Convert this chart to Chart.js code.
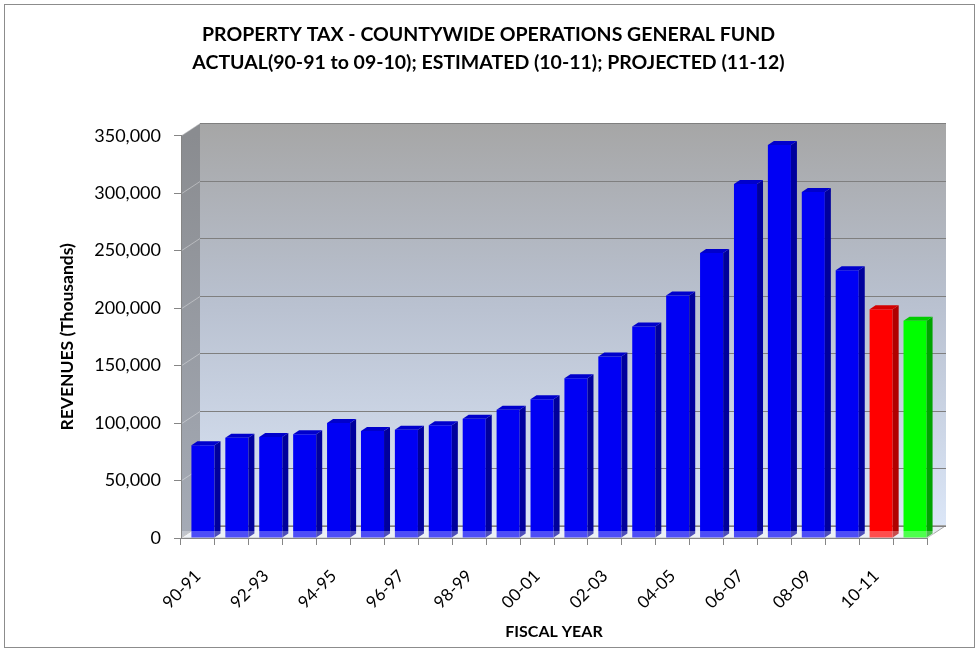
<!DOCTYPE html>
<html>
<head>
<meta charset="utf-8">
<title>Property Tax - Countywide Operations General Fund</title>
<script src="https://cdn.jsdelivr.net/npm/chart.js@4.4.1/dist/chart.umd.min.js"></script>
<style>
  html, body { margin: 0; padding: 0; background: #fff; }
  #wrap { width: 980px; height: 652px; }
</style>
</head>
<body>
<div id="wrap"><canvas id="taxChart" width="980" height="652"></canvas></div>
<script>
const fiscalYears = ['90-91', '91-92', '92-93', '93-94', '94-95', '95-96', '96-97', '97-98',
  '98-99', '99-00', '00-01', '01-02', '02-03', '03-04', '04-05', '05-06', '06-07', '07-08',
  '08-09', '09-10', '10-11', '11-12'];

// revenues in thousands
const revenues = [80700, 87300, 87900, 90200, 100000, 93100, 94200, 98000,
  103700, 111500, 120800, 139000, 158000, 184000, 211000, 248000, 308000, 342000,
  301000, 233000, 199000, 189000];

// actual / estimated / projected
const yearType = fiscalYears.map((y, i) => i < 20 ? 'actual' : (i === 20 ? 'estimated' : 'projected'));

const revenueTicks = [0, 50000, 100000, 150000, 200000, 250000, 300000, 350000];

const frontColor = { actual: '#0000f4', estimated: '#ff0000', projected: '#00ff00' };
const sideColor = { actual: '#00009c', estimated: '#b00000', projected: '#00a400' };
const topColor = { actual: '#0000cc', estimated: '#d40000', projected: '#00cc00' };

const DEPTH_X = 19, DEPTH_Y = 12.5;   // wall depth
const BAR_DX = 6, BAR_DY = 4;         // bar side depth
const BAR_SHIFT = 5;
const AXIS_GRAY = '#868686';

const walls3d = {
  id: 'walls3d',
  beforeDraw(chart) {
    const { ctx, chartArea: a, scales: { y } } = chart;
    const top = y.getPixelForValue(revenueTicks[revenueTicks.length - 1]);
    const bottom = y.getPixelForValue(0);
    const bx0 = a.left + DEPTH_X, bx1 = a.right + DEPTH_X;
    const by0 = top - DEPTH_Y, by1 = bottom - DEPTH_Y;
    ctx.save();

    // outer frame
    ctx.strokeStyle = '#8c8c8c';
    ctx.lineWidth = 1;
    ctx.strokeRect(4.5, 4.5, 970, 643);

    // back wall
    let g = ctx.createLinearGradient(0, by0, 0, by1);
    g.addColorStop(0, '#a6a6a6');
    g.addColorStop(0.45, '#b9c1d0');
    g.addColorStop(1, '#dbe6f7');
    ctx.fillStyle = g;
    ctx.fillRect(bx0, by0, bx1 - bx0, by1 - by0);

    // side wall
    g = ctx.createLinearGradient(0, top, 0, bottom);
    g.addColorStop(0, '#8a8c90');
    g.addColorStop(1, '#a5abb6');
    ctx.fillStyle = g;
    ctx.beginPath();
    ctx.moveTo(a.left, top);
    ctx.lineTo(bx0, by0);
    ctx.lineTo(bx0, by1);
    ctx.lineTo(a.left, bottom);
    ctx.closePath();
    ctx.fill();

    // floor
    ctx.fillStyle = '#e6ebf3';
    ctx.strokeStyle = '#a6a6a6';
    ctx.beginPath();
    ctx.moveTo(a.left, bottom);
    ctx.lineTo(bx0, by1);
    ctx.lineTo(bx1, by1);
    ctx.lineTo(a.right, bottom);
    ctx.closePath();
    ctx.fill();
    ctx.stroke();

    // gridlines on the back and side walls
    revenueTicks.forEach(v => {
      const py = Math.round(y.getPixelForValue(v) - DEPTH_Y) + 0.5;
      ctx.strokeStyle = '#7f7f7f';
      ctx.beginPath();
      ctx.moveTo(bx0, py);
      ctx.lineTo(bx1, py);
      ctx.stroke();
      ctx.strokeStyle = 'rgba(255,255,255,0.35)';
      ctx.beginPath();
      ctx.moveTo(a.left, py + DEPTH_Y);
      ctx.lineTo(bx0, py);
      ctx.stroke();
    });
    ctx.restore();
  },
  beforeDatasetsDraw(chart) {
    chart.ctx.save();
    chart.ctx.translate(BAR_SHIFT, 0);
  },
  afterDatasetsDraw(chart) {
    const ctx = chart.ctx;
    const a = chart.chartArea;
    chart.getDatasetMeta(0).data.forEach((bar, i) => {
      const { x, y, base, width } = bar.getProps(['x', 'y', 'base', 'width'], true);
      const l = x - width / 2, r = x + width / 2;
      const t = yearType[i];
      // right side face
      ctx.fillStyle = sideColor[t];
      ctx.beginPath();
      ctx.moveTo(r, y);
      ctx.lineTo(r + BAR_DX, y - BAR_DY);
      ctx.lineTo(r + BAR_DX, base - BAR_DY);
      ctx.lineTo(r, base);
      ctx.closePath();
      ctx.fill();
      // top face
      ctx.fillStyle = topColor[t];
      ctx.beginPath();
      ctx.moveTo(l, y);
      ctx.lineTo(l + BAR_DX, y - BAR_DY);
      ctx.lineTo(r + BAR_DX, y - BAR_DY);
      ctx.lineTo(r, y);
      ctx.closePath();
      ctx.fill();
    });
    ctx.restore();
    // front edge of the floor over the bar feet
    ctx.save();
    ctx.fillStyle = 'rgba(255,255,255,0.3)';
    ctx.fillRect(a.left + 1, a.bottom - 7, a.right - a.left + BAR_DX, 7);
    ctx.restore();
  }
};

new Chart(document.getElementById('taxChart'), {
  type: 'bar',
  data: {
    labels: fiscalYears,
    datasets: [{
      data: revenues,
      backgroundColor: yearType.map(t => frontColor[t]),
      barPercentage: 0.68,
      categoryPercentage: 1,
      clip: false
    }]
  },
  options: {
    responsive: false,
    animation: false,
    devicePixelRatio: 1,
    layout: { padding: { left: 50, right: 53, top: 0, bottom: 8 } },
    plugins: {
      legend: { display: false },
      tooltip: { enabled: false },
      title: {
        display: true,
        text: ['PROPERTY TAX - COUNTYWIDE OPERATIONS GENERAL FUND',
               'ACTUAL(90-91 to 09-10); ESTIMATED (10-11); PROJECTED (11-12)'],
        color: '#000',
        font: { family: 'Lato', size: 19.5, weight: 'bold', lineHeight: 1.436 },
        padding: { top: 21, bottom: 58.7 }
      }
    },
    scales: {
      x: {
        offset: true,
        grid: { offset: true, drawOnChartArea: false, tickLength: 7, color: AXIS_GRAY },
        border: { color: AXIS_GRAY },
        ticks: {
          autoSkip: false,
          minRotation: 45,
          maxRotation: 45,
          padding: 21,
          color: '#000',
          font: { family: 'Lato', size: 17 },
          callback: (v, i) => i % 2 === 0 ? fiscalYears[i] : ''
        },
        title: {
          display: true,
          text: 'FISCAL YEAR',
          color: '#000',
          font: { family: 'Lato', size: 16, weight: 'bold' },
          padding: { top: 4, bottom: 3 }
        },
        afterFit: s => { s.height = 106; }
      },
      y: {
        min: 0,
        max: 350000,
        afterBuildTicks: s => { s.ticks = revenueTicks.map(v => ({ value: v })); },
        grid: { drawOnChartArea: false, tickLength: 7, color: AXIS_GRAY },
        border: { color: AXIS_GRAY },
        ticks: {
          padding: 13,
          color: '#000',
          font: { family: 'Lato', size: 18 },
          callback: v => v.toLocaleString('en-US')
        },
        title: {
          display: true,
          text: 'REVENUES (Thousands)',
          color: '#000',
          font: { family: 'Lato', size: 17.5, weight: 'bold' },
          padding: { top: 7, bottom: 4 }
        },
        afterFit: s => { s.width = 131; }
      }
    }
  },
  plugins: [walls3d]
});
</script>
</body>
</html>
